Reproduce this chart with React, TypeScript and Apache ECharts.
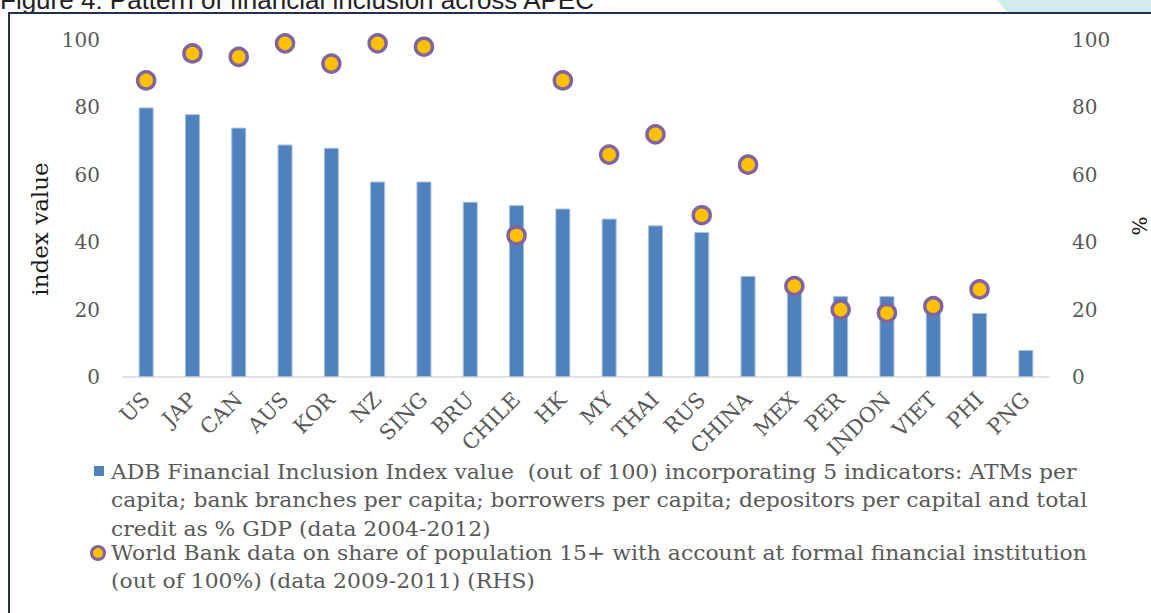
import React, { useEffect, useRef } from "react";
import * as echarts from "echarts";

const categories = ["US", "JAP", "CAN", "AUS", "KOR", "NZ", "SING", "BRU", "CHILE", "HK", "MY", "THAI", "RUS", "CHINA", "MEX", "PER", "INDON", "VIET", "PHI", "PNG"];
const adbIndex = [80, 78, 74, 69, 68, 58, 58, 52, 51, 50, 47, 45, 43, 30, 27, 24, 24, 22, 19, 8];
const worldBank: (number | null)[] = [88, 96, 95, 99, 93, 99, 98, null, 42, 88, 66, 72, 48, 63, 27, 20, 19, 21, 26, null];
const yTicks = { min: 0, max: 100, interval: 20 };

const titleText = "Figure 4: Pattern of financial inclusion across APEC";
const legend1Lines = [
  "ADB Financial Inclusion Index value  (out of 100) incorporating 5 indicators: ATMs per",
  "capita; bank branches per capita; borrowers per capita; depositors per capital and total",
  "credit as % GDP (data 2004-2012)",
];
const legend2Lines = [
  "World Bank data on share of population 15+ with account at formal financial institution",
  "(out of 100%) (data 2009-2011) (RHS)",
];

const SERIF = "'DejaVu Serif', serif";
const GRAY = "#595959";

export default function App() {
  const ref = useRef<HTMLDivElement>(null);
  useEffect(() => {
    document.body.style.margin = "0";
    if (!ref.current) return;
    const chart = echarts.init(ref.current, null, { renderer: "svg" });
    const legendTextStyle = { fill: GRAY, font: `20px ${SERIF}` };
    const graphics: any[] = [
      { type: "polygon", shape: { points: [[997, 0], [1151, 0], [1151, 12], [1007, 12]] }, style: { fill: "#d2ebeb" }, z: 1 },
      { type: "text", x: 0, y: -13, style: { text: titleText, fill: "#222", font: "26px 'Liberation Sans', sans-serif", textVerticalAlign: "top" }, z: 1 },
      { type: "line", shape: { x1: 8, y1: 13, x2: 1151, y2: 13 }, style: { stroke: "#1f3050", lineWidth: 2 }, z: 5 },
      { type: "line", shape: { x1: 9, y1: 13, x2: 9, y2: 613 }, style: { stroke: "#1f3050", lineWidth: 2 }, z: 5 },
      { type: "text", x: 40, y: 229, rotation: Math.PI / 2, style: { text: "index value", fill: "#1a1a1a", font: `23px ${SERIF}`, textAlign: "center", textVerticalAlign: "middle" } },
      { type: "text", x: 1140, y: 226, rotation: Math.PI / 2, style: { text: "%", fill: "#1a1a1a", font: `20px ${SERIF}`, textAlign: "center", textVerticalAlign: "middle" } },
      { type: "rect", shape: { x: 94, y: 466, width: 10, height: 10 }, style: { fill: "#4f81bd" } },
      { type: "circle", shape: { cx: 98, cy: 553, r: 6.5 }, style: { fill: "#ffc000", stroke: "#8064a2", lineWidth: 3 } },
    ];
    legend1Lines.forEach((t, i) => {
      graphics.push({ type: "text", x: 111, y: 472 + i * 28.5, scaleX: 1.094, style: { ...legendTextStyle, text: t, textVerticalAlign: "middle" } });
    });
    legend2Lines.forEach((t, i) => {
      graphics.push({ type: "text", x: 111, y: 553 + i * 28.5, scaleX: 1.094, style: { ...legendTextStyle, text: t, textVerticalAlign: "middle" } });
    });

    chart.setOption({
      animation: false,
      backgroundColor: "#ffffff",
      grid: { left: 123, right: 102, top: 40, bottom: 236 },
      legend: { show: false },
      xAxis: {
        type: "category",
        data: categories,
        axisLine: { lineStyle: { color: "#d9d9d9", width: 1.5 } },
        axisTick: { show: false },
        axisLabel: { rotate: 45, color: GRAY, fontFamily: SERIF, fontSize: 21, margin: 19, interval: 0 },
      },
      yAxis: [
        {
          type: "value", ...yTicks,
          axisLine: { show: false }, axisTick: { show: false }, splitLine: { show: false },
          axisLabel: { color: GRAY, fontFamily: SERIF, fontSize: 20, margin: 23 },
        },
        {
          type: "value", ...yTicks, position: "right",
          axisLine: { show: false }, axisTick: { show: false }, splitLine: { show: false },
          axisLabel: { color: GRAY, fontFamily: SERIF, fontSize: 20, margin: 23 },
        },
      ],
      series: [
        {
          name: "ADB Financial Inclusion Index",
          type: "bar",
          data: adbIndex,
          barWidth: 15,
          itemStyle: { color: "#4f81bd", borderColor: "#a7bfdd", borderWidth: 1 },
          z: 2,
        },
        {
          name: "World Bank account share",
          type: "scatter",
          yAxisIndex: 1,
          data: worldBank,
          symbol: "circle",
          symbolSize: 17,
          itemStyle: { color: "#ffc000", borderColor: "#8064a2", borderWidth: 3.5, opacity: 1 },
          z: 3,
        },
      ],
      graphic: graphics,
    });
    return () => chart.dispose();
  }, []);
  return <div ref={ref} style={{ width: 1151, height: 613 }} />;
}
